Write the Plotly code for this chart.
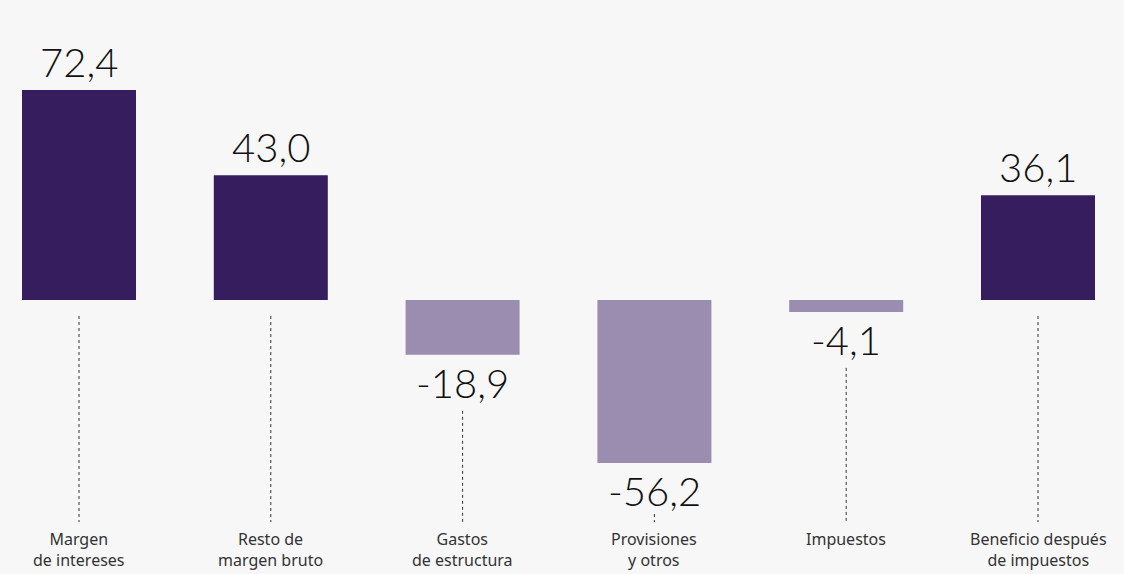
import plotly.graph_objects as go

# Results breakdown (bn €)
categories = [
    "Margen<br>de intereses",
    "Resto de<br>margen bruto",
    "Gastos<br>de estructura",
    "Provisiones<br>y otros",
    "Impuestos",
    "Beneficio después<br>de impuestos",
]
values = [72.4, 43.0, -18.9, -56.2, -4.1, 36.1]

W, H = 1124, 574
DARK = "#351d5e"
LIGHT = "#9a8db0"
BG = "#f7f7f7"

# pixel layout helpers
x_first_px, x_step_px = 79, 191.8
zero_px, px_per_unit = 300, 2.9
x_range = [-x_first_px / x_step_px, (W - x_first_px) / x_step_px]
y_range = [-(H - zero_px) / px_per_unit, zero_px / px_per_unit]


def px_to_y(py):
    return (zero_px - py) / px_per_unit


xs = list(range(len(values)))
colors = [DARK if v >= 0 else LIGHT for v in values]

fig = go.Figure(
    go.Bar(
        x=xs,
        y=values,
        width=114 / x_step_px,
        marker=dict(color=colors, line=dict(width=0)),
        hoverinfo="skip",
    )
)

value_font = dict(family="Lato", size=40, color="#111111", weight=300)
for x, v in zip(xs, values):
    label = f"{v:.1f}".replace(".", ",")
    fig.add_annotation(
        x=x, y=v, xref="x", yref="y",
        text=label, showarrow=False, font=value_font,
        yanchor="bottom" if v >= 0 else "top",
        yshift=2 if v >= 0 else -2,
    )

# dotted leader lines down to the category labels
line_end = px_to_y(522)
label_h = 48 / px_per_unit
gap = 16 / px_per_unit
for x, v in zip(xs, values):
    start = -gap if v >= 0 else v - label_h - gap / 2
    start = max(start, line_end + 8 / px_per_unit)
    fig.add_shape(
        type="line", xref="x", yref="y",
        x0=x, x1=x, y0=start, y1=line_end,
        line=dict(color="#333333", width=1, dash="dot"),
    )

for x, c in zip(xs, categories):
    fig.add_annotation(
        x=x, xref="x", y=0, yref="paper",
        text=c, showarrow=False, yanchor="bottom", valign="top",
        yshift=1 if "<br>" in c else 22,
        font=dict(family="Noto Sans", size=16, color="#333333"),
    )

fig.update_layout(
    width=W, height=H,
    margin=dict(l=0, r=0, t=0, b=0),
    paper_bgcolor=BG, plot_bgcolor=BG,
    showlegend=False,
    xaxis=dict(range=x_range, visible=False, fixedrange=True),
    yaxis=dict(range=y_range, visible=False, fixedrange=True),
)

fig.write_html("out.html", config={"displayModeBar": False})
